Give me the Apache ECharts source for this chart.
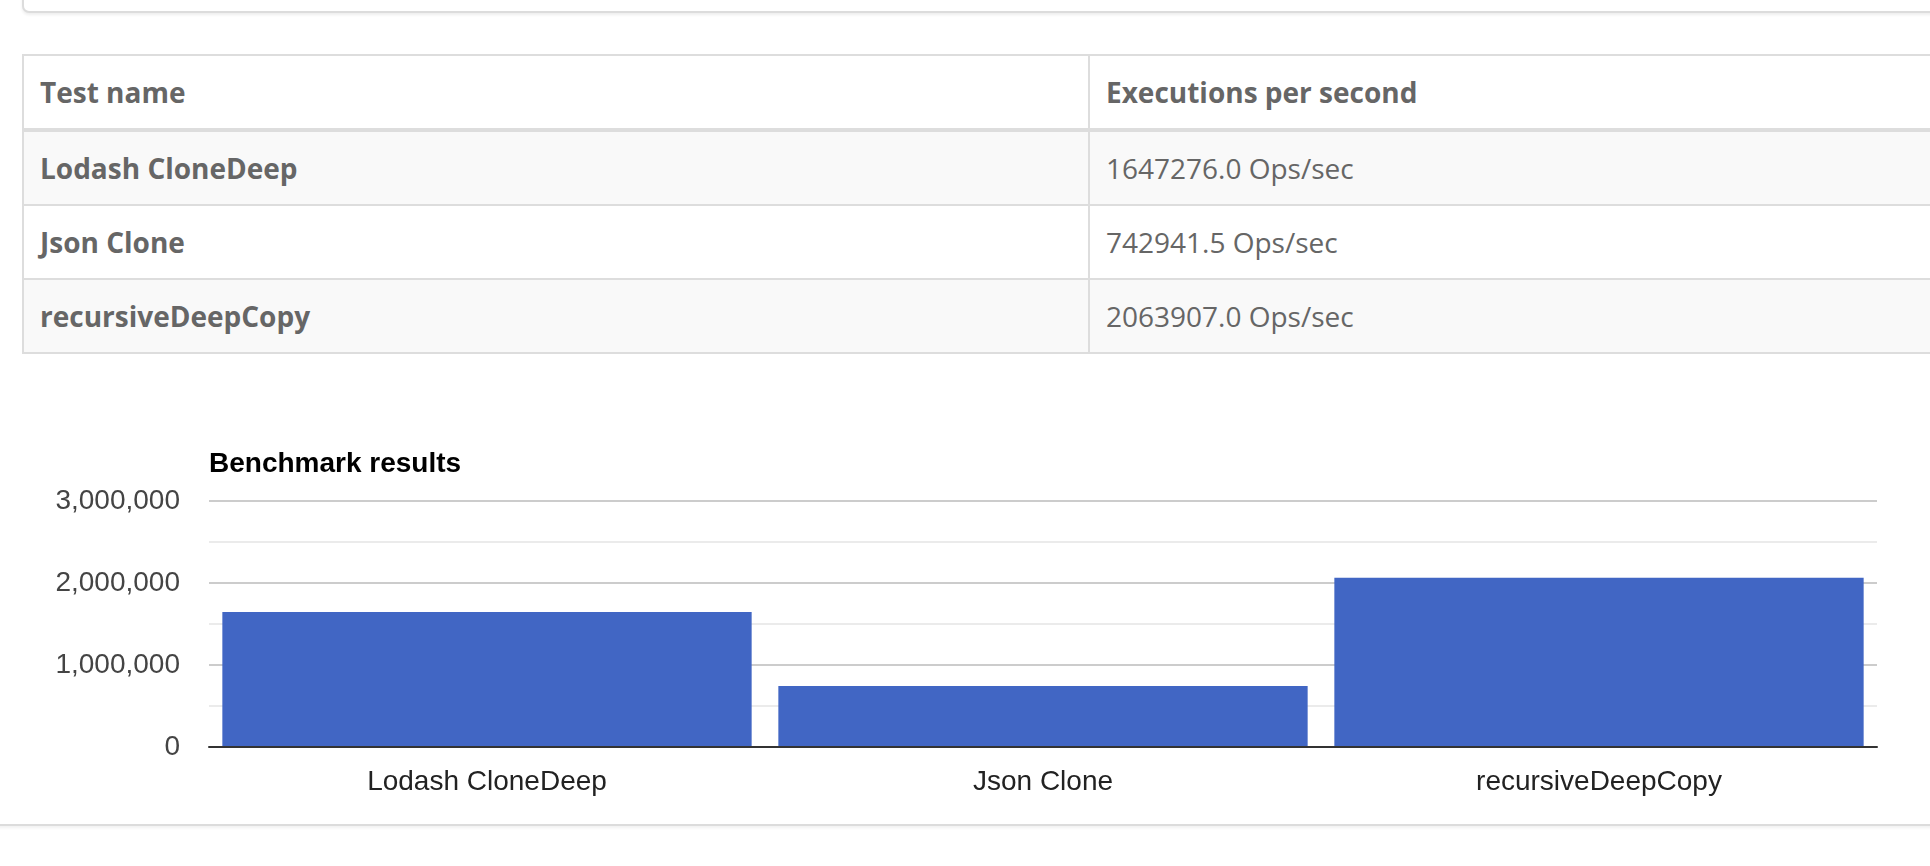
<!DOCTYPE html>
<html>
<head>
<meta charset="utf-8">
<script src="https://cdn.jsdelivr.net/npm/echarts@6/dist/echarts.min.js"></script>
<style>
  html, body { margin: 0; padding: 0; background: #fff; width: 1930px; height: 866px; overflow: hidden; position: relative; }
  #topcard { position: absolute; left: 22px; top: -40px; width: 2000px; height: 53px; box-sizing: border-box;
             border: 2px solid #dcdcdc; border-radius: 7px; box-shadow: 0 2px 3px rgba(0,0,0,0.07); background: #fff; }
  #bench { position: absolute; left: 22px; top: 54px; width: 2134px; border-collapse: separate; border-spacing: 0;
           border-left: 2px solid #ddd; border-top: 2px solid #ddd; font-family: "Open Sans", sans-serif; font-size: 28px;
           color: #666; table-layout: fixed; }
  #bench th, #bench td { box-sizing: border-box; padding: 16px; line-height: 40px; height: 74px; text-align: left;
           border-right: 2px solid #ddd; border-bottom: 2px solid #ddd; white-space: nowrap; }
  #bench th { font-weight: 700; border-bottom: 4px solid #ddd; height: 76px; }
  #bench td.name { font-weight: 700; }
  #bench td.val { font-weight: 400; }
  #bench tbody tr:nth-child(odd) td { background: #f9f9f9; }
  #bottomcard { position: absolute; left: -20px; top: 600px; width: 2000px; height: 226px; box-sizing: border-box;
                border-bottom: 2px solid #dcdcdc; box-shadow: 0 2px 3px rgba(0,0,0,0.06); background: #fff; }
  #chart { position: absolute; left: 0; top: 400px; width: 1930px; height: 466px; }
</style>
</head>
<body>
<div id="topcard"></div>
<div id="bottomcard"></div>
<table id="bench">
  <colgroup><col style="width:1066px"><col></colgroup>
  <thead><tr><th>Test name</th><th>Executions per second</th></tr></thead>
  <tbody id="tbody"></tbody>
</table>
<div id="chart"></div>
<script>
const categories = ["Lodash CloneDeep", "Json Clone", "recursiveDeepCopy"];
const opsPerSec = [1647276.0, 742941.5, 2063907.0];
const opsLabels = ["1647276.0 Ops/sec", "742941.5 Ops/sec", "2063907.0 Ops/sec"];
const yTicks = [0, 1000000, 2000000, 3000000];

const tbody = document.getElementById('tbody');
categories.forEach(function (name, i) {
  const tr = document.createElement('tr');
  const a = document.createElement('td'); a.className = 'name'; a.textContent = name;
  const b = document.createElement('td'); b.className = 'val'; b.textContent = opsLabels[i];
  tr.appendChild(a); tr.appendChild(b); tbody.appendChild(tr);
});

function addCommas(v) { return String(v).replace(/\B(?=(\d{3})+(?!\d))/g, ','); }

const chart = echarts.init(document.getElementById('chart'), null, { renderer: 'canvas' });
chart.setOption({
  backgroundColor: 'transparent',
  animation: false,
  title: {
    text: 'Benchmark results', left: 209, top: 50, padding: 0,
    textStyle: { fontFamily: 'Liberation Sans, Arial, sans-serif', fontSize: 28, fontWeight: 'bold', color: '#000' }
  },
  grid: { left: 209, right: 53, top: 101, bottom: 119, containLabel: false },
  xAxis: {
    type: 'category', data: categories, z: 5,
    axisLine: { show: true, lineStyle: { color: '#333', width: 2 } },
    axisTick: { show: false },
    axisLabel: { margin: 21, fontFamily: 'Liberation Sans, Arial, sans-serif', fontSize: 28, color: '#222' },
    splitLine: { show: false }
  },
  yAxis: {
    type: 'value', min: yTicks[0], max: yTicks[yTicks.length - 1], interval: yTicks[1] - yTicks[0],
    axisLine: { show: false }, axisTick: { show: false },
    axisLabel: { margin: 29, fontFamily: 'Liberation Sans, Arial, sans-serif', fontSize: 28, color: '#444',
                 formatter: function (v) { return addCommas(v); } },
    splitLine: { show: true, lineStyle: { color: '#cccccc', width: 2 } },
    minorTick: { show: false, splitNumber: 2 },
    minorSplitLine: { show: true, lineStyle: { color: '#ebebeb', width: 2 } }
  },
  series: [{
    type: 'bar', data: opsPerSec, barCategoryGap: '4.8%',
    itemStyle: { color: '#4166C4' }
  }]
});
</script>
</body>
</html>
